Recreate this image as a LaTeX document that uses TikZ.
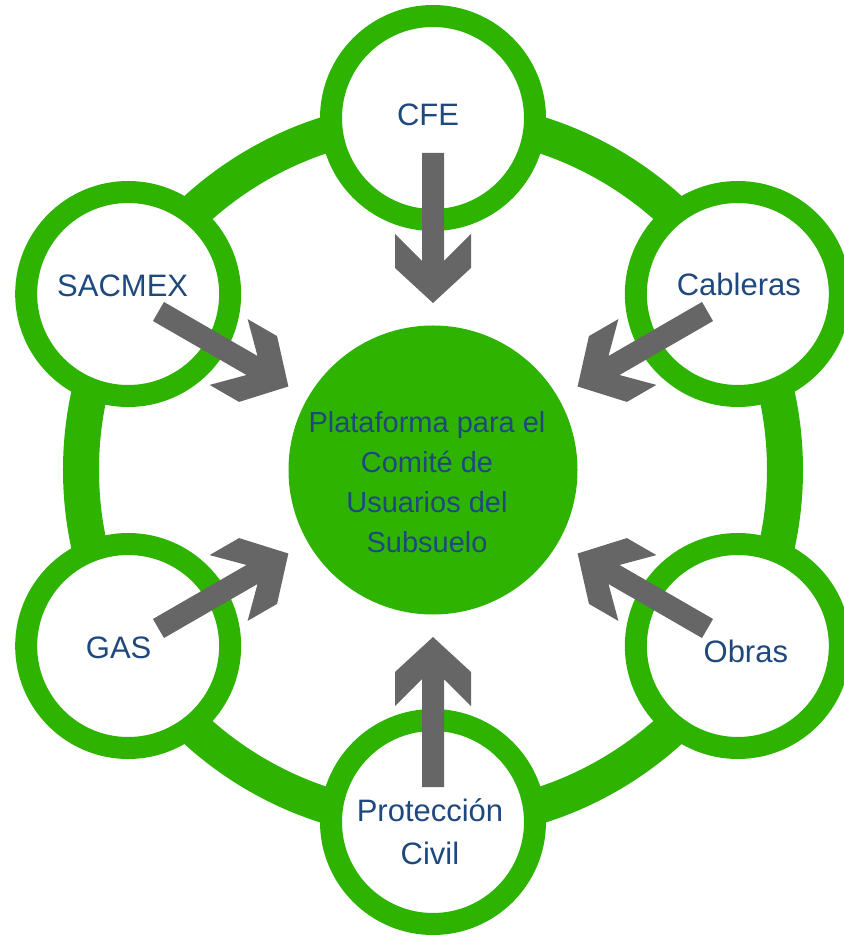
\documentclass[tikz,border=0pt]{standalone}
\usepackage{fontspec}
\setmainfont{Liberation Sans}
\usetikzlibrary{calc}
\definecolor{ringgreen}{RGB}{46,180,0}
\definecolor{arrowgray}{RGB}{102,102,102}
\definecolor{labelblue}{RGB}{31,73,125}
\tikzset{
  ring/.style={draw=ringgreen, line width=36pt},
  member/.style={circle, draw=ringgreen, line width=22pt, fill=white, minimum size=204pt, inner sep=0pt},
  hubnode/.style={circle, fill=ringgreen, minimum size=289pt, inner sep=0pt},
  membertext/.style={text=labelblue, font=\fontsize{31}{43}\selectfont, align=center, inner sep=0pt},
  hubtext/.style={text=labelblue, font=\fontsize{29}{40}\selectfont, align=center, inner sep=0pt},
  inarrow/.pic={\fill[arrowgray] (0,0) -- (-35,38) -- (-69,38) -- (-42,11) -- (-150,11) -- (-150,-11) -- (-42,-11) -- (-69,-38) -- (-35,-38) -- cycle;}
}
\begin{document}
\begin{tikzpicture}[x=1pt, y=1pt]
  \useasboundingbox (-433,-466) rectangle (410,470);
  \node[hubnode] (hub) at (0,0) {};
  \draw[ring] (hub.center) circle[radius=352];
  \node[member] (cfe) at (90:352) {};
  \node[member] (cableras) at (30:352) {};
  \node[member] (obras) at (-30:352) {};
  \node[member] (proteccion) at (-90:352) {};
  \node[member] (gas) at (210:352) {};
  \node[member] (sacmex) at (150:352) {};
  \node[hubtext] (hublabel) at ([shift={(-6,-12)}]hub.center) {Plataforma para el\\Comité de\\Usuarios del\\Subsuelo};
  \node[membertext, anchor=base] (cfelabel) at ([shift={(-5,-8)}]cfe.center) {CFE};
  \node[membertext, anchor=base] (cableraslabel) at ([shift={(1,-2)}]cableras.center) {Cableras};
  \node[membertext, anchor=base] (obraslabel) at ([shift={(8,-16)}]obras.center) {Obras};
  \node[membertext] (proteccionlabel) at ([shift={(-3,-9.5)}]proteccion.center) {Protección\\Civil};
  \node[membertext, anchor=base] (gaslabel) at ([shift={(-9.5,-12)}]gas.center) {GAS};
  \node[membertext, anchor=base] (sacmexlabel) at ([shift={(-5.5,-2.7)}]sacmex.center) {SACMEX};
  \pic[rotate=-90] at ($(hub.center)!167pt!(cfe.center)$) {inarrow};
  \pic[rotate=210] at ($(hub.center)!167pt!(cableras.center)$) {inarrow};
  \pic[rotate=150] at ($(hub.center)!167pt!(obras.center)$) {inarrow};
  \pic[rotate=90] at ($(hub.center)!167pt!(proteccion.center)$) {inarrow};
  \pic[rotate=30] at ($(hub.center)!167pt!(gas.center)$) {inarrow};
  \pic[rotate=-30] at ($(hub.center)!167pt!(sacmex.center)$) {inarrow};
\end{tikzpicture}
\end{document}
